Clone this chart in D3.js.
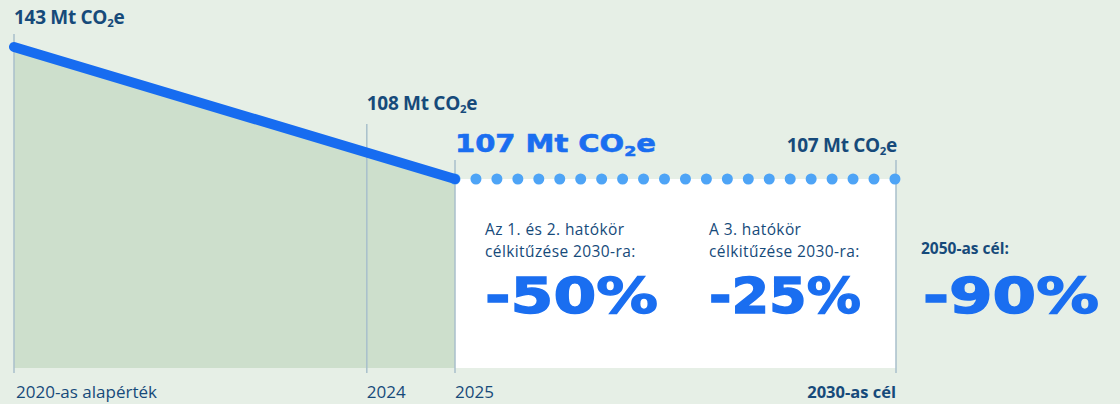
<!DOCTYPE html>
<html lang="hu">
<head>
<meta charset="UTF-8">
<script src="https://d3js.org/d3.v7.min.js"></script>
<style>
  html, body { margin: 0; padding: 0; background: #e6efe6; }
  svg { display: block; }
  .lbl { font-family: "Open Sans", sans-serif; fill: #164a7a; }
  .wide { font-family: "DejaVu Sans", sans-serif; font-weight: bold; fill: #1a6ef0; stroke: #1a6ef0; }
</style>
</head>
<body>
<div id="chart"></div>
<script>
// data
const tickYears = [2020, 2024, 2025, 2030];
const tickLabels = ["2020-as alapérték", "2024", "2025", "2030-as cél"];
const histYears = [2020, 2025];
const histValues = [143, 107];
const targetYears = [2025, 2030];
const targetValues = [107, 107];
const labelYears = [2020, 2024, 2025, 2030];
const labelValues = [143, 108, 107, 107];
const goalText = [["Az 1. és 2. hatókör", "célkitűzése 2030-ra:"], ["A 3. hatókör", "célkitűzése 2030-ra:"], ["2050-as cél:"]];
const goalValues = [-50, -25, -90];

const w = 1120, h = 404;
const bottom = 368;

const x = d3.scaleLinear().domain([2020, 2030]).range([14, 896]);
const y = d3.scaleLinear().domain([107, 143]).range([179, 47]);

const svg = d3.select("#chart").append("svg")
  .attr("width", w).attr("height", h);

svg.append("rect").attr("width", w).attr("height", h).attr("fill", "#e6efe6");

const hist = histYears.map((d, i) => ({ year: d, v: histValues[i] }));
const target = targetYears.map((d, i) => ({ year: d, v: targetValues[i] }));

// white target box
svg.append("rect")
  .attr("x", x(2025)).attr("y", y(107))
  .attr("width", x(2030) - x(2025)).attr("height", bottom - y(107))
  .attr("fill", "#ffffff");

// area under history
svg.append("path")
  .datum(hist)
  .attr("fill", "#cddfcc")
  .attr("d", d3.area().x(d => x(d.year)).y0(bottom).y1(d => y(d.v)));

// grid lines
const gridTop = [34, 124, 160, 160];
svg.selectAll("line.grid")
  .data(tickYears)
  .enter().append("line")
  .attr("class", "grid")
  .attr("x1", d => x(d)).attr("x2", d => x(d))
  .attr("y1", (d, i) => gridTop[i]).attr("y2", 373)
  .attr("stroke", "#a8bfcb").attr("stroke-width", 1.5);

// target dotted line
svg.append("path")
  .datum(target)
  .attr("fill", "none")
  .attr("stroke", "#4ea4f6")
  .attr("stroke-width", 11)
  .attr("stroke-linecap", "round")
  .attr("stroke-dasharray", "0 20.95")
  .attr("d", d3.line().x(d => x(d.year)).y(d => y(d.v)));

// history line
svg.append("path")
  .datum(hist)
  .attr("fill", "none")
  .attr("stroke", "#176cf0")
  .attr("stroke-width", 10)
  .attr("stroke-linecap", "round")
  .attr("d", d3.line().x(d => x(d.year)).y(d => y(d.v)));

// value labels
function co2(sel) {
  sel.append("tspan").text(d => d + " Mt CO");
  sel.append("tspan").attr("font-size", "0.6em").attr("dy", "0.3em").text("2");
  sel.append("tspan").attr("dy", "-0.18em").text("e");
}
const labelY = [24, 110, 152, 152];
labelValues.forEach((v, i) => {
  if (i === 2) return;
  svg.append("text").datum(v)
    .attr("class", "lbl")
    .attr("x", x(labelYears[i]) + (i === 3 ? 1 : 0))
    .attr("y", labelY[i])
    .attr("text-anchor", i === 3 ? "end" : "start")
    .attr("font-size", 19).attr("font-weight", 700)
    .attr("letter-spacing", -0.3)
    .call(co2);
});
svg.append("text").datum(labelValues[2])
  .attr("class", "wide")
  .attr("x", x(2025)).attr("y", 152)
  .attr("font-size", 24)
  .attr("stroke-width", 0.6)
  .attr("textLength", 201).attr("lengthAdjust", "spacingAndGlyphs")
  .call(co2);

// goals
const goalX = [x(2025) + 30, x(2025) + 254, x(2030) + 25];
goalText.forEach((lines, i) => {
  lines.forEach((s, j) => {
    svg.append("text").attr("class", "lbl")
      .attr("font-size", 15.5)
      .attr("letter-spacing", i === 2 ? 0 : 0.4)
      .attr("font-weight", i === 2 ? 700 : 400)
      .attr("x", goalX[i])
      .attr("y", (i === 2 ? 254 : 235) + j * 21.5)
      .text(s);
  });
  const pct = goalValues[i] + "%";
  svg.append("text")
    .attr("class", "wide")
    .attr("x", goalX[i] + (i === 2 ? 2 : 0))
    .attr("y", 313)
    .attr("font-size", 50)
    .attr("stroke-width", 1.4)
    .attr("textLength", i === 2 ? 176 : (i === 0 ? 173 : 152))
    .attr("lengthAdjust", "spacingAndGlyphs")
    .text(pct);
});

// axis labels
svg.selectAll("text.tick")
  .data(tickYears)
  .enter().append("text")
  .attr("class", "lbl tick")
  .attr("x", (d, i) => i === 3 ? x(d) : x(d) + (i === 0 ? 2 : 0))
  .attr("y", 398)
  .attr("text-anchor", (d, i) => i === 3 ? "end" : "start")
  .attr("font-size", (d, i) => i === 3 ? 16.5 : 17)
  .attr("font-weight", (d, i) => i === 3 ? 700 : 400)
  .text((d, i) => tickLabels[i]);
</script>
</body>
</html>
